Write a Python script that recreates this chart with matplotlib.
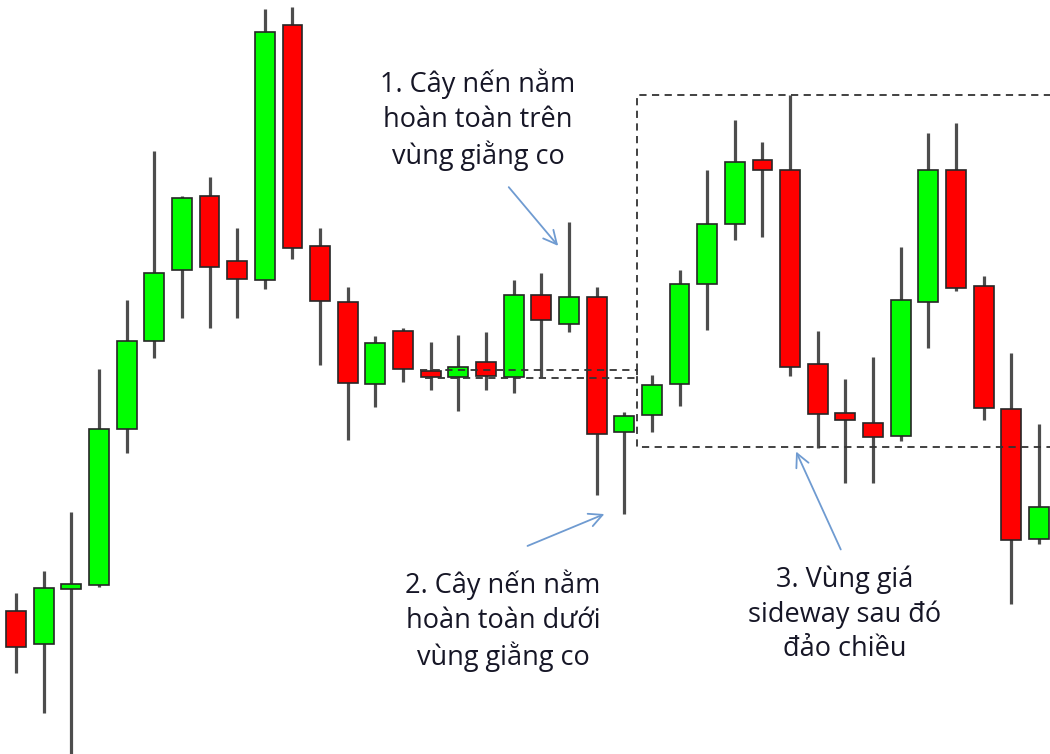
import matplotlib
matplotlib.use("Agg")
import matplotlib.pyplot as plt
import numpy as np

# du lieu nen (open, high, low, close) doc tu hinh
opens = [143, 110, 165, 169, 325, 413, 484, 558, 493, 474, 729, 508, 452, 370, 423, 383, 377, 392, 377,
         459, 430, 457, 322, 339, 370, 470, 530, 594, 584, 390, 341, 331, 318, 452, 584, 468, 345, 215]
highs = [161, 183, 242, 385, 454, 603, 558, 577, 526, 745, 747, 526, 467, 418, 426, 412, 419, 422, 474,
         481, 532, 467, 342, 379, 484, 584, 634, 612, 659, 423, 375, 397, 507, 621, 631, 478, 401, 330]
lows = [81, 41, 0, 167, 301, 396, 436, 426, 436, 465, 495, 389, 314, 347, 372, 364, 343, 364, 361,
        377, 422, 259, 240, 322, 348, 424, 514, 517, 378, 306, 271, 271, 313, 406, 463, 334, 150, 210]
closes = [107, 166, 170, 325, 413, 481, 556, 487, 475, 722, 506, 453, 371, 411, 385, 377, 387, 378, 459,
          434, 457, 320, 338, 369, 470, 530, 592, 584, 387, 340, 334, 317, 454, 584, 466, 346, 214, 247]

# vung giang co nho (candle 15-22) va vung sideway lon
small_zone = (14.6, 22.46, 376, 384)
big_zone = (22.46, 38.0, 307, 659)

text1 = "1. Cây nến nằm\nhoàn toàn trên\nvùng giằng co"
text2 = "2. Cây nến nằm\nhoàn toàn dưới\nvùng giằng co"
text3 = "3. Vùng giá\nsideway sau đó\nđảo chiều"

fig = plt.figure(figsize=(10.5, 7.54), dpi=100)
ax = fig.add_axes([0, 0, 1, 1])
ax.set_xlim(-0.579, 37.4)
ax.set_ylim(0, 754)
ax.axis("off")

x = np.arange(len(opens))
o = np.array(opens); c = np.array(closes)
up = c >= o
ax.vlines(x, lows, highs, color="#4d4d4d", linewidth=2.3, zorder=1)
ax.bar(x, np.maximum(np.abs(c - o), 1), bottom=np.minimum(o, c), width=0.72,
       color=np.where(up, "#00ff00", "#ff0000"), edgecolor="#262626", linewidth=1.2, zorder=2)

dash = dict(color="#333333", linewidth=1.3, linestyle=(0, (4, 3)), zorder=3)
x0, x1, y0, y1 = small_zone
ax.plot([x0, x1, x1, x0], [y1, y1, y0, y0], **dash)
x0, x1, y0, y1 = big_zone
ax.plot([x1, x0, x0, x1], [y1, y1, y0, y0], **dash)

def px(xp, yp):
    # chuyen toa do pixel sang toa do du lieu
    return ((xp - 16) / 27.65, 754 - yp)

tkw = dict(ha="center", va="center", fontsize=19.5, color="#161626", family="Open Sans", linespacing=1.3)
akw = dict(arrowstyle="->", color="#6f9bd1", lw=1.3, mutation_scale=24)

ax.text(*px(478, 120), text1, **tkw)
ax.text(*px(503, 621), text2, **tkw)
ax.text(*px(845, 614), text3, **tkw)

ax.annotate("", xy=px(560, 248), xytext=px(507, 185), arrowprops=akw)
ax.annotate("", xy=px(607, 513), xytext=px(525, 547), arrowprops=akw)
ax.annotate("", xy=px(795, 449), xytext=px(842, 552), arrowprops=akw)

fig.savefig("out.png", dpi=100)
